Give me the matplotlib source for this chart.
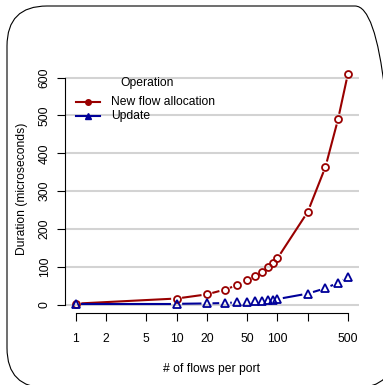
import numpy as np
import matplotlib
matplotlib.use("Agg")
import matplotlib.pyplot as plt
from matplotlib.lines import Line2D
from matplotlib.patches import FancyBboxPatch

plt.rcParams['font.family'] = ['Liberation Sans', 'DejaVu Sans']

# data
flows = [1, 10, 20, 30, 40, 50, 60, 70, 80, 90, 100, 200, 300, 400, 500]
new_alloc = [2.5, 16, 27, 39.5, 51.5, 64, 75, 87, 99, 110.5, 122, 245, 364, 490, 609]
update = [2, 2, 3, 4, 6, 7, 9, 10, 12, 13, 14.5, 29, 43, 58, 73]
x_ticks = [1, 2, 5, 10, 20, 50, 100, 200, 500]
x_labels = ['1', '2', '5', '10', '20', '50', '100', '', '500']
y_ticks = [0, 100, 200, 300, 400, 500, 600]
series_names = ['New flow allocation', 'Update']

red = '#990000'
blue = '#000099'
fs = 8.7

W, H = 383, 385
fig = plt.figure(figsize=(W / 100, H / 100), dpi=100)
ax = fig.add_axes([65 / W, 1 - 313 / H, (358.7 - 65) / W, (313 - 65) / H])

ax.set_xscale('log')
lx0, lx1 = np.log10(min(flows)), np.log10(max(flows))
pad = 0.04 * (lx1 - lx0)
ax.set_xlim(10 ** (lx0 - pad), 10 ** (lx1 + pad))
ymin = min(min(new_alloc), min(update))
ymax = max(max(new_alloc), max(update))
ypad = 0.04 * (ymax - ymin)
ax.set_ylim(ymin - ypad, ymax + ypad)

for y in y_ticks:
    ax.axhline(y, color='#d3d3d3', lw=1.5, zorder=0)

# R style "b" lines: segments stop short of the points
def gapped(xs, ys, color, gap=5.5):
    pts = ax.transData.transform(np.column_stack([xs, ys]))
    inv = ax.transData.inverted()
    for p, q in zip(pts[:-1], pts[1:]):
        d = q - p
        n = np.hypot(*d)
        if n <= 2 * gap:
            continue
        u = d / n
        a = inv.transform(p + u * gap)
        b = inv.transform(q - u * gap)
        ax.plot([a[0], b[0]], [a[1], b[1]], color=color, lw=1.5, solid_capstyle='butt', zorder=2)

gapped(flows, new_alloc, red)
gapped(flows, update, blue)
ax.plot(flows, new_alloc, ls='none', marker='o', ms=5, mfc='none', mec=red, mew=1.3, zorder=3)
ax.plot(flows, update, ls='none', marker='^', ms=6, mfc='none', mec=blue, mew=1.3, zorder=3)

for s in ['top', 'right']:
    ax.spines[s].set_visible(False)
ax.spines['left'].set_bounds(0, 600)
ax.spines['bottom'].set_bounds(1, 500)
ax.spines['left'].set_linewidth(0.8)
ax.spines['bottom'].set_linewidth(0.8)
ax.set_xticks(x_ticks)
ax.set_xticklabels(x_labels)
ax.xaxis.set_minor_locator(matplotlib.ticker.NullLocator())
ax.set_yticks(y_ticks)
ax.set_yticklabels([str(v) for v in y_ticks], rotation=90, va='center')
ax.tick_params(axis='both', labelsize=fs, length=5.8, width=0.8)
ax.tick_params(axis='x', pad=8.5)
ax.tick_params(axis='y', pad=4.5)
ax.set_xlabel('# of flows per port', fontsize=fs, labelpad=13)
ax.set_ylabel('Duration (microseconds)', fontsize=fs, labelpad=8)

# legend drawn by hand, no frame (figure pixel positions)
def fpx(x, y):
    return x / W, 1 - y / H

fig.text(*fpx(147, 83), 'Operation', fontsize=fs, ha='center', va='center')
for name, color, mk, ms, yy in [(series_names[0], red, 'o', 4, 102),
                                 (series_names[1], blue, '^', 5, 116)]:
    x0, y0 = fpx(76, yy)
    x1, _ = fpx(100, yy)
    fig.add_artist(Line2D([x0, x1], [y0, y0], color=color, lw=1.5, transform=fig.transFigure))
    fig.add_artist(Line2D([(x0 + x1) / 2], [y0], color=color, marker=mk, ms=ms,
                          mfc=color, mec=color, transform=fig.transFigure))
    fig.text(*fpx(111, yy), name, fontsize=fs, ha='left', va='center')

# rounded frame in pixel coordinates, running off the right and bottom edges
box = FancyBboxPatch((7, H - 388), 388, 382,
                     boxstyle='round,pad=0,rounding_size=40',
                     transform=None, fill=False, ec='black', lw=0.8,
                     clip_on=False)
fig.patches.append(box)

fig.savefig('out.png', dpi=100)
